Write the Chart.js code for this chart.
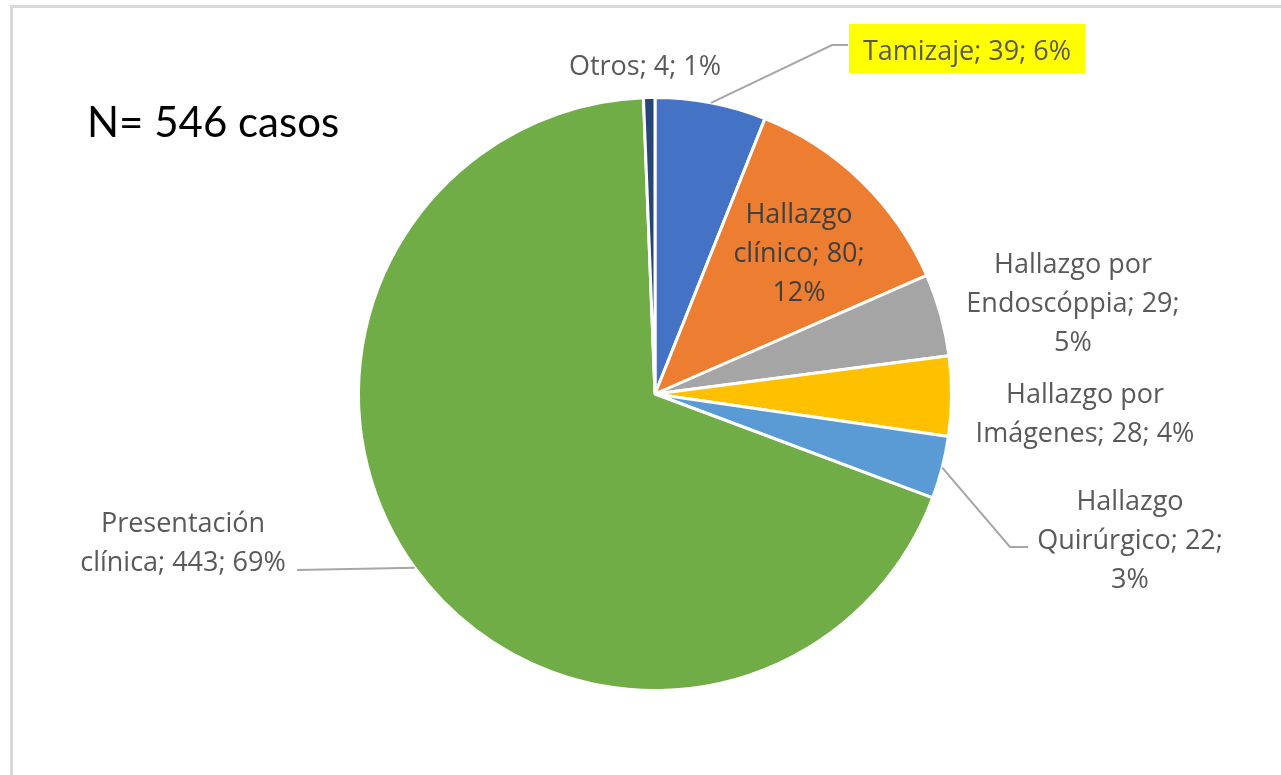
<!DOCTYPE html>
<html>
<head>
<meta charset="utf-8">
<script src="https://cdn.jsdelivr.net/npm/chart.js@4.4.1/dist/chart.umd.min.js"></script>
<style>
    body { margin: 0; background: #fff; }
    canvas { display: block; }
</style>
</head>
<body>
<canvas id="pieChart" width="1281" height="775"></canvas>
<script>
// Data
const categories = ['Tamizaje', 'Hallazgo clínico', 'Hallazgo por Endoscóppia', 'Hallazgo por Imágenes', 'Hallazgo Quirúrgico', 'Presentación clínica', 'Otros'];
const caseCounts = [39, 80, 29, 28, 22, 443, 4];
const percentLabels = [6, 12, 5, 4, 3, 69, 1];
const sliceColors = ['#4472C4', '#ED7D31', '#A5A5A5', '#FFC000', '#5B9BD5', '#70AD47', '#264478'];
const totalText = 'N= 546 casos';

// Where each label sits (words per line, centre x, first baseline, optional leader elbow)
const labelLayout = [
    { words: [3], x: 967, y: 60, highlight: true, elbow: [[832, 45], [848, 45]] },
    { words: [1, 2, 1], x: 799, y: 223, inside: true },
    { words: [2, 2, 1], x: 1073, y: 273 },
    { words: [2, 3], x: 1085, y: 403 },
    { words: [1, 2, 1], x: 1130, y: 510, elbow: [[1010, 547], [1028, 547]] },
    { words: [1, 3], x: 183, y: 532, elbow: [[297, 570]] },
    { words: [3], x: 645, y: 75 }
];

const LABEL_FONT = '27px "Open Sans"';
const LINE_HEIGHT = 39;

const labelPlugin = {
    id: 'sliceLabels',
    beforeDraw(chart) {
        const ctx = chart.ctx;
        ctx.save();
        ctx.fillStyle = '#fff';
        ctx.fillRect(0, 0, chart.width, chart.height);
        // light frame round the chart
        ctx.strokeStyle = '#D9D9D9';
        ctx.lineWidth = 3;
        ctx.strokeRect(11.5, 6.5, chart.width + 20, chart.height + 20);
        ctx.restore();
    },
    afterDraw(chart) {
        const ctx = chart.ctx;
        const meta = chart.getDatasetMeta(0);
        ctx.save();

        ctx.font = '42px Lato';
        ctx.fillStyle = '#000';
        ctx.textAlign = 'left';
        ctx.textBaseline = 'alphabetic';
        ctx.fillText(totalText, 87, 137);

        ctx.font = LABEL_FONT;
        ctx.textAlign = 'center';

        meta.data.forEach((arc, i) => {
            const layout = labelLayout[i];
            const text = `${categories[i]}; ${caseCounts[i]}; ${percentLabels[i]}%`;
            const words = text.split(' ');
            const lines = [];
            let pos = 0;
            layout.words.forEach(n => {
                lines.push(words.slice(pos, pos + n).join(' '));
                pos += n;
            });

            if (layout.elbow) {
                const p = arc.getProps(['x', 'y', 'startAngle', 'endAngle', 'outerRadius'], true);
                const mid = (p.startAngle + p.endAngle) / 2;
                ctx.beginPath();
                ctx.moveTo(p.x + Math.cos(mid) * p.outerRadius, p.y + Math.sin(mid) * p.outerRadius);
                layout.elbow.forEach(pt => ctx.lineTo(pt[0], pt[1]));
                ctx.strokeStyle = '#A6A6A6';
                ctx.lineWidth = 2;
                ctx.stroke();
            }

            if (layout.highlight) {
                const w = ctx.measureText(lines[0]).width;
                ctx.fillStyle = '#FFFF00';
                ctx.fillRect(layout.x - w / 2 - 14, layout.y - 36, w + 28, 49);
            }

            ctx.fillStyle = layout.inside ? '#404040' : '#595959';
            lines.forEach((line, j) => {
                ctx.fillText(line, layout.x, layout.y + j * LINE_HEIGHT);
            });
        });
        ctx.restore();
    }
};

const ctx = document.getElementById('pieChart').getContext('2d');
new Chart(ctx, {
    type: 'pie',
    data: {
        labels: categories,
        datasets: [{
            data: caseCounts,
            backgroundColor: sliceColors,
            borderColor: '#FFFFFF',
            borderWidth: 3,
            hoverOffset: 0
        }]
    },
    options: {
        responsive: false,
        animation: false,
        layout: {
            padding: { left: 357, right: 328, top: 96, bottom: 83 }
        },
        plugins: {
            legend: { display: false },
            tooltip: { enabled: false }
        }
    },
    plugins: [labelPlugin]
});
</script>
</body>
</html>
